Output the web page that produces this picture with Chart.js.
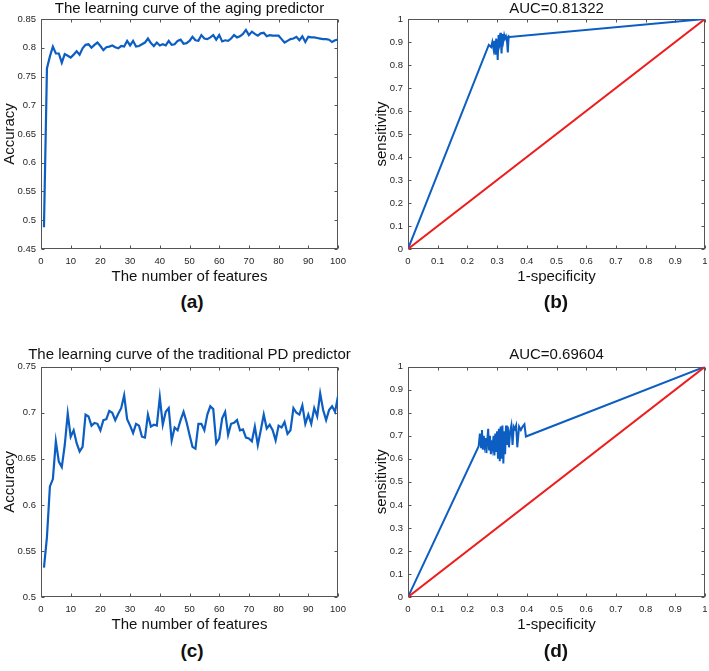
<!DOCTYPE html>
<html><head><meta charset="utf-8">
<script src="https://cdn.jsdelivr.net/npm/chart.js@4.4.0/dist/chart.umd.min.js"></script>
<style>
html,body{margin:0;padding:0;background:#fff;overflow:hidden;width:709px;height:671px;position:relative;}
canvas{position:absolute;}
.lab{position:absolute;font:bold 19px "Liberation Sans",Arial,sans-serif;color:#111;transform:translate(-50%,-50%);white-space:nowrap;}
</style></head><body>
<canvas id="ca" width="379" height="289" style="left:0px;top:0px"></canvas>
<canvas id="cb" width="373" height="289" style="left:370px;top:0px"></canvas>
<canvas id="cc" width="379" height="291" style="left:0px;top:346px"></canvas>
<canvas id="cd" width="373" height="291" style="left:370px;top:346px"></canvas>
<div class="lab" style="left:192px;top:302px">(a)</div>
<div class="lab" style="left:556px;top:302px">(b)</div>
<div class="lab" style="left:192px;top:651px">(c)</div>
<div class="lab" style="left:556px;top:651px">(d)</div>
<script>
// ---------- data ----------
const featureCounts = [1,2,3,4,5,6,7,8,9,10,11,12,13,14,15,16,17,18,19,20,
21,22,23,24,25,26,27,28,29,30,31,32,33,34,35,36,37,38,39,40,
41,42,43,44,45,46,47,48,49,50,51,52,53,54,55,56,57,58,59,60,
61,62,63,64,65,66,67,68,69,70,71,72,73,74,75,76,77,78,79,80,
81,82,83,84,85,86,87,88,89,90,91,92,93,94,95,96,97,98,99,100];

const agingAccuracy = [0.488,0.764,0.785,0.802,0.790,0.790,0.774,0.789,0.786,0.783,
0.788,0.794,0.788,0.799,0.805,0.806,0.800,0.805,0.809,0.803,
0.796,0.801,0.802,0.804,0.801,0.799,0.803,0.802,0.812,0.804,
0.812,0.802,0.803,0.806,0.809,0.816,0.808,0.803,0.809,0.804,
0.806,0.804,0.812,0.805,0.806,0.812,0.814,0.807,0.808,0.812,
0.819,0.813,0.812,0.822,0.816,0.815,0.818,0.822,0.814,0.822,
0.811,0.813,0.812,0.816,0.822,0.818,0.820,0.824,0.831,0.822,
0.828,0.824,0.821,0.825,0.826,0.820,0.822,0.821,0.821,0.821,
0.815,0.809,0.812,0.815,0.816,0.819,0.813,0.820,0.810,0.819,
0.818,0.818,0.817,0.816,0.815,0.815,0.814,0.810,0.813,0.814];

const pdAccuracy = [0.532,0.565,0.620,0.628,0.669,0.647,0.641,0.665,0.699,0.674,
0.681,0.667,0.658,0.663,0.698,0.696,0.686,0.689,0.688,0.681,
0.692,0.693,0.702,0.700,0.692,0.699,0.705,0.719,0.693,0.686,
0.678,0.688,0.686,0.674,0.673,0.698,0.685,0.687,0.686,0.717,
0.687,0.701,0.705,0.670,0.684,0.681,0.692,0.701,0.690,0.676,
0.663,0.661,0.688,0.688,0.681,0.698,0.707,0.704,0.667,0.672,
0.694,0.701,0.676,0.688,0.689,0.692,0.681,0.682,0.673,0.672,
0.669,0.685,0.665,0.681,0.698,0.683,0.687,0.681,0.670,0.686,
0.684,0.690,0.677,0.681,0.705,0.700,0.698,0.708,0.688,0.698,
0.688,0.705,0.696,0.721,0.703,0.692,0.703,0.707,0.701,0.718];

const rocAgingFpr = [0,0.272,0.280,0.284,0.288,0.291,0.294,0.297,0.300,0.302,0.305,0.308,0.311,0.313,0.315,0.318,0.321,0.324,0.327,0.330,0.333,0.336,0.339,0.342,1];
const rocAgingTpr = [0,0.887,0.878,0.900,0.870,0.905,0.845,0.915,0.880,0.822,0.930,0.900,0.940,0.890,0.850,0.935,0.905,0.930,0.915,0.925,0.910,0.855,0.925,0.922,1];

const rocPdFpr = [0,0.238,0.242,0.246,0.249,0.252,0.255,0.258,0.261,0.264,0.267,0.270,0.273,0.276,0.279,0.282,0.285,0.288,0.291,0.294,0.297,0.300,0.303,0.306,0.309,0.312,0.315,0.318,0.321,0.324,0.327,0.330,0.333,0.336,0.340,0.344,0.348,0.352,0.356,0.360,0.364,0.368,0.374,0.380,0.386,0.392,0.397,1];
const rocPdTpr = [0,0.655,0.710,0.650,0.725,0.640,0.700,0.660,0.690,0.625,0.680,0.730,0.640,0.700,0.620,0.680,0.650,0.700,0.615,0.710,0.630,0.720,0.600,0.730,0.590,0.740,0.600,0.745,0.580,0.720,0.620,0.745,0.660,0.740,0.650,0.720,0.745,0.660,0.740,0.730,0.745,0.650,0.740,0.725,0.740,0.750,0.697,1];

const chanceFpr = [0,1];
const chanceTpr = [0,1];

const featureTicks = [0,10,20,30,40,50,60,70,80,90,100];
const agingAccTicks = [0.45,0.5,0.55,0.6,0.65,0.7,0.75,0.8,0.85];
const pdAccTicks = [0.5,0.55,0.6,0.65,0.7,0.75];
const rocTicks = [0,0.1,0.2,0.3,0.4,0.5,0.6,0.7,0.8,0.9,1];

const titles = ['The learning curve of the aging predictor','AUC=0.81322','The learning curve of the traditional PD predictor','AUC=0.69604'];

// ---------- styling ----------
Chart.defaults.font.family = '"Liberation Sans", Arial, Helvetica, sans-serif';
Chart.defaults.color = '#262626';
const AXIS_COLOR = '#555555';
const BLUE = '#0d5ec3';
const RED = '#ee1d1d';

const boxTicks = {
  id: 'boxTicks',
  beforeDatasetsDraw(chart) {
    const {ctx, chartArea: a} = chart;
    const xs = chart.scales.x, ys = chart.scales.y;
    const L = Math.round(a.left) + 0.5, R = Math.round(a.right) - 0.5;
    const T = Math.round(a.top) + 0.5, B = Math.round(a.bottom) - 0.5;
    ctx.save();
    ctx.strokeStyle = AXIS_COLOR;
    ctx.lineWidth = 1;
    ctx.strokeRect(L, T, R - L, B - T);
    const len = 3;
    ctx.beginPath();
    xs.ticks.forEach(t => {
      const px = Math.round(xs.getPixelForValue(t.value)) + 0.5;
      ctx.moveTo(px, B); ctx.lineTo(px, B - len);
      ctx.moveTo(px, T); ctx.lineTo(px, T + len);
    });
    ys.ticks.forEach(t => {
      const py = Math.round(ys.getPixelForValue(t.value)) + 0.5;
      ctx.moveTo(L, py); ctx.lineTo(L + len, py);
      ctx.moveTo(R, py); ctx.lineTo(R - len, py);
    });
    ctx.stroke();
    ctx.restore();
  }
};

function pts(xs, ys) { return xs.map((x, i) => ({x: x, y: ys[i]})); }

function makeChart(id, o) {
  return new Chart(document.getElementById(id), {
    type: 'line',
    data: {datasets: o.datasets},
    options: {
      responsive: false, animation: false, events: [],
      layout: {padding: 0},
      elements: {point: {radius: 0}, line: {tension: 0, borderWidth: 2}},
      plugins: {
        legend: {display: false}, tooltip: {enabled: false},
        title: {display: true, text: o.title, color: '#111', font: {size: 15, weight: 'normal'},
                padding: {top: 0, bottom: o.titlePadBottom}}
      },
      scales: {
        x: {type: 'linear', min: o.xMin, max: o.xMax,
            afterBuildTicks: s => { s.ticks = o.xTicks.map(v => ({value: v})); },
            ticks: {callback: v => String(v), font: {size: 9.5}, padding: 7, maxRotation: 0, autoSkip: false},
            grid: {display: false, drawTicks: false}, border: {display: false},
            title: {display: true, text: o.xTitle, color: '#111', font: {size: 15}, padding: {top: 0, bottom: 3}},
            afterFit: s => { s.height = 40; }},
        y: {type: 'linear', position: 'left', min: o.yMin, max: o.yMax,
            afterBuildTicks: s => { s.ticks = o.yTicks.map(v => ({value: v})); },
            ticks: {callback: v => String(v), font: {size: 9.5}, padding: 5, autoSkip: false},
            grid: {display: false, drawTicks: false}, border: {display: false},
            title: {display: true, text: o.yTitle, color: '#111', font: {size: 15}, padding: {top: o.yTitlePad, bottom: 0}},
            afterFit: s => { s.width = o.yAxisWidth; }},
        y2: {type: 'linear', position: 'right', min: 0, max: 1, display: true,
             grid: {display: false, drawTicks: false}, border: {display: false}, ticks: {display: false},
             afterFit: s => { s.width = o.yAxisWidth; }}
      }
    },
    plugins: [boxTicks]
  });
}

function blueLine(data, w) { return {data: data, borderColor: BLUE, borderWidth: w, fill: false, xAxisID: 'x', yAxisID: 'y'}; }
function redLine(data) { return {data: data, borderColor: RED, borderWidth: 2, fill: false, xAxisID: 'x', yAxisID: 'y'}; }

makeChart('ca', {title: titles[0], titlePadBottom: 1,
  datasets: [blueLine(pts(featureCounts, agingAccuracy), 2.2)],
  xMin: 0, xMax: 100, xTicks: featureTicks, yMin: 0.45, yMax: 0.85, yTicks: agingAccTicks,
  xTitle: 'The number of features', yTitle: 'Accuracy', yAxisWidth: 41, yTitlePad: 1});

makeChart('cb', {title: titles[1], titlePadBottom: 1,
  datasets: [redLine(pts(chanceFpr, chanceTpr)), blueLine(pts(rocAgingFpr, rocAgingTpr), 2)],
  xMin: 0, xMax: 1, xTicks: rocTicks, yMin: 0, yMax: 1, yTicks: rocTicks,
  xTitle: '1-specificity', yTitle: 'sensitivity', yAxisWidth: 38, yTitlePad: 3});

makeChart('cc', {title: titles[2], titlePadBottom: 2.7,
  datasets: [blueLine(pts(featureCounts, pdAccuracy), 2.2)],
  xMin: 0, xMax: 100, xTicks: featureTicks, yMin: 0.5, yMax: 0.75, yTicks: pdAccTicks,
  xTitle: 'The number of features', yTitle: 'Accuracy', yAxisWidth: 41, yTitlePad: 1});

makeChart('cd', {title: titles[3], titlePadBottom: 2.7,
  datasets: [redLine(pts(chanceFpr, chanceTpr)), blueLine(pts(rocPdFpr, rocPdTpr), 2)],
  xMin: 0, xMax: 1, xTicks: rocTicks, yMin: 0, yMax: 1, yTicks: rocTicks,
  xTitle: '1-specificity', yTitle: 'sensitivity', yAxisWidth: 38, yTitlePad: 3});
</script>
</body></html>
